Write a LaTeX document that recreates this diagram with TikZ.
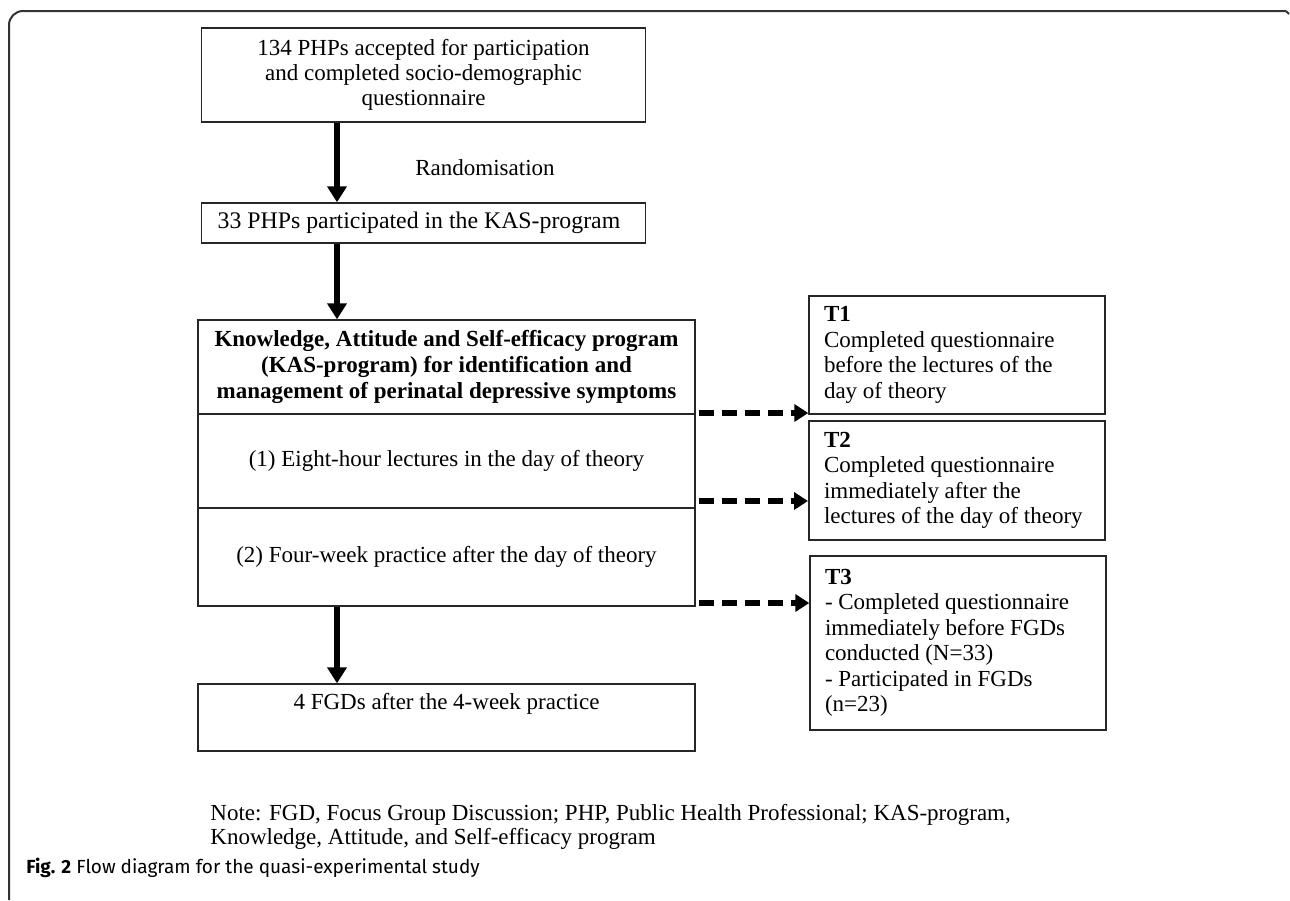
\documentclass[tikz,border=0pt]{standalone}
\usepackage{fontspec}
\setmainfont{Liberation Serif}
\newfontfamily\capfont{Fira Sans}
\usetikzlibrary{arrows.meta,calc}
\newcommand{\tlines}[1]{\hspace*{3.5pt}\begin{tabular}{@{}l@{}}#1\end{tabular}}
\begin{document}
\begin{tikzpicture}[x=0.5pt,y=-0.5pt,
  font=\fontsize{11.5}{12.6}\selectfont,
  box/.style={draw=black!85,line width=0.7pt,rectangle,inner sep=0pt,align=center},
  tbox/.style={draw=black!85,line width=0.7pt,rectangle,inner xsep=4pt,inner ysep=0pt,align=flush left,text width=140pt,font=\fontsize{11.5}{12.7}\selectfont},
  solidarrow/.style={line width=2.6pt,-{Triangle[length=8pt,width=9.5pt]}},
  dasharrow/.style={line width=2.6pt,dash pattern=on 7.5pt off 4pt,-{Triangle[length=7pt,width=8.5pt]}}]
\useasboundingbox (0,0) rectangle (1290,900);
% outer frame
\draw[black!80,line width=1pt,rounded corners=7pt] (9,900) -- (9,11) -- (1286,11);
\draw[black!80,line width=1pt] (1286,11) -- (1289,14);
\coordinate (ax) at (337,0);
% left column
\node[box,minimum width=222pt,minimum height=47pt] (b1) at (423.5,75)
  {134 PHPs accepted for participation\\and completed socio-demographic\\questionnaire};
\node[box,minimum width=222pt,minimum height=20pt,font=\fontsize{11.9}{13}\selectfont] (b2) at (423.5,223)
  {\hspace*{-4.5pt}33 PHPs participated in the KAS-program};
\node (rand) at (485,168) {Randomisation};
\node[box,minimum width=248.5pt,minimum height=47pt,font=\fontsize{11.5}{13}\selectfont\bfseries] (kas) at (446.5,367)
  {Knowledge, Attitude and Self-efficacy program\\(KAS-program) for identification and\\management of perinatal depressive symptoms};
\node[box,minimum width=248.5pt,minimum height=47pt] (s1) at (446.5,461)
  {(1) Eight-hour lectures in the day of theory};
\node[box,minimum width=248.5pt,minimum height=49pt] (s2) at (446.5,557)
  {(2) Four-week practice after the day of theory};
\node[box,minimum width=248.5pt,minimum height=33.5pt] (fgd) at (446.5,717.5)
  {4 FGDs after the 4-week practice\\\strut};
% right column
\node[tbox,minimum height=59pt] (t1) at (957,355)
  {\tlines{\textbf{T1}\\Completed questionnaire\\before the lectures of the\\day of theory}};
\node[tbox,minimum height=59.5pt,line width=1pt] (t2) at (957,480.5)
  {\tlines{\textbf{T2}\\Completed questionnaire\\immediately after the\\lectures of the day of theory}};
\node[tbox,minimum height=87pt] (t3) at (958,643)
  {\tlines{\textbf{T3}\\- Completed questionnaire\\immediately before FGDs\\conducted (N=33)\\- Participated in FGDs\\(n=23)}};
% solid arrows
\draw[solidarrow] (b1.south -| ax) -- (b2.north -| ax);
\draw[solidarrow] (b2.south -| ax) -- (kas.north -| ax);
\draw[solidarrow] (s2.south -| ax) -- (fgd.north -| ax);
% dashed arrows
\coordinate (d1) at (0,413);
\coordinate (d2) at (0,501);
\coordinate (d3) at (0,603);
\draw[dasharrow] ([xshift=1.5pt]kas.east |- d1) -- (t1.west |- d1);
\draw[dasharrow] ([xshift=1.5pt]s1.east |- d2) -- (t2.west |- d2);
\draw[dasharrow] ([xshift=1.5pt]s2.east |- d3) -- (t3.west |- d3);
% note and caption
\node[anchor=north west,align=left,inner sep=0pt,font=\fontsize{11.5}{12}\selectfont] (note) at (210,804)
  {Note: FGD, Focus Group Discussion; PHP, Public Health Professional; KAS-program,\\Knowledge, Attitude, and Self-efficacy program};
\node[anchor=west,inner sep=0pt,font=\capfont\fontsize{9.5}{10}\selectfont] (cap) at (26,868)
  {\textbf{Fig. 2} Flow diagram for the quasi-experimental study};
\end{tikzpicture}
\end{document}
